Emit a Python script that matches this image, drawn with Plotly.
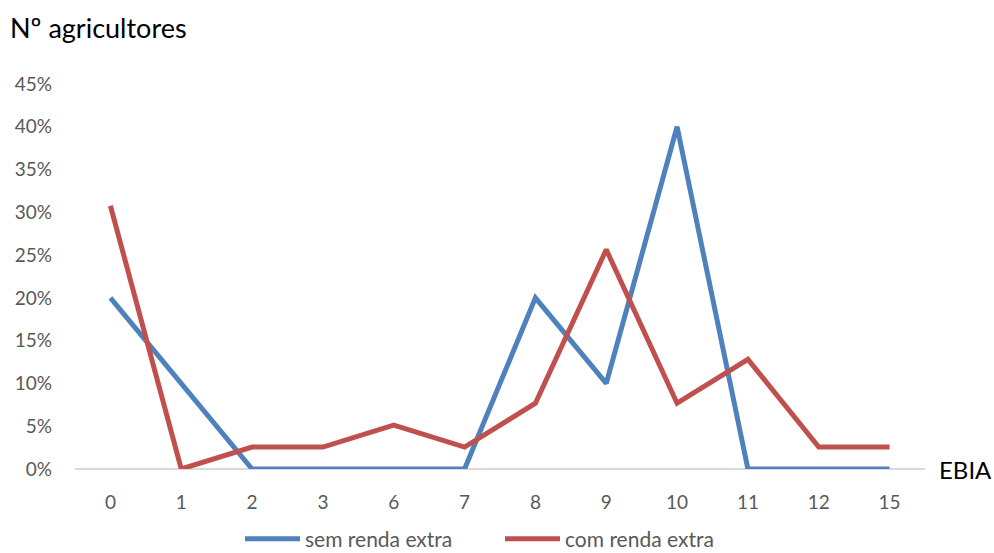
import plotly.graph_objects as go

# EBIA score categories and share of farmers per group
ebia = ["0", "1", "2", "3", "6", "7", "8", "9", "10", "11", "12", "15"]
sem_renda = [0.20, 0.10, 0.0, 0.0, 0.0, 0.0, 0.20, 0.10, 0.40, 0.0, 0.0, 0.0]
com_renda = [0.3077, 0.0, 0.0256, 0.0256, 0.0513, 0.0256, 0.0769, 0.2564, 0.0769, 0.1282, 0.0256, 0.0256]
y_ticks = [0, 0.05, 0.10, 0.15, 0.20, 0.25, 0.30, 0.35, 0.40, 0.45]

FONT = "Lato, 'Open Sans', sans-serif"
GRAY = "#595959"

fig = go.Figure()
fig.add_trace(go.Scatter(
    x=ebia, y=sem_renda, mode="lines", name="sem renda extra",
    line=dict(color="#4F81BD", width=5), cliponaxis=False,
))
fig.add_trace(go.Scatter(
    x=ebia, y=com_renda, mode="lines", name="com renda extra",
    line=dict(color="#C0504D", width=5), cliponaxis=False,
))

fig.update_layout(
    width=994, height=553,
    margin=dict(l=75, r=69, t=84, b=84, autoexpand=False),
    paper_bgcolor="white", plot_bgcolor="white",
    font=dict(family=FONT, size=19, color=GRAY),
    showlegend=True,
    legend=dict(
        orientation="h", x=0.5, xanchor="center", xref="paper",
        y=-70 / 385, yanchor="middle",
        font=dict(family=FONT, size=21, color=GRAY),
        itemwidth=55, tracegroupgap=0,
        entrywidth=190, entrywidthmode="pixels",
    ),
    xaxis=dict(
        type="category", range=[-0.5, 11.5],
        showgrid=False, showline=False, zeroline=False,
        ticks="", ticklabelstandoff=20,
        tickfont=dict(family=FONT, size=19, color=GRAY),
    ),
    yaxis=dict(
        range=[0, 0.45], tickvals=y_ticks, tickformat=".0%",
        showgrid=False, showline=False,
        zeroline=True, zerolinecolor="#D9D9D9", zerolinewidth=1.5,
        ticks="", ticklabelstandoff=22,
        tickfont=dict(family=FONT, size=19, color=GRAY),
    ),
    annotations=[
        dict(text="Nº agricultores", xref="paper", yref="paper",
             x=-67 / 850, y=1 + 56 / 385, xanchor="left", yanchor="middle",
             showarrow=False, font=dict(family=FONT, size=27, color="black")),
        dict(text="EBIA", xref="paper", yref="y",
             x=1 + 12 / 850, y=0, xanchor="left", yanchor="middle",
             showarrow=False, font=dict(family=FONT, size=24, color="black")),
    ],
)

fig.write_html("out.html")
